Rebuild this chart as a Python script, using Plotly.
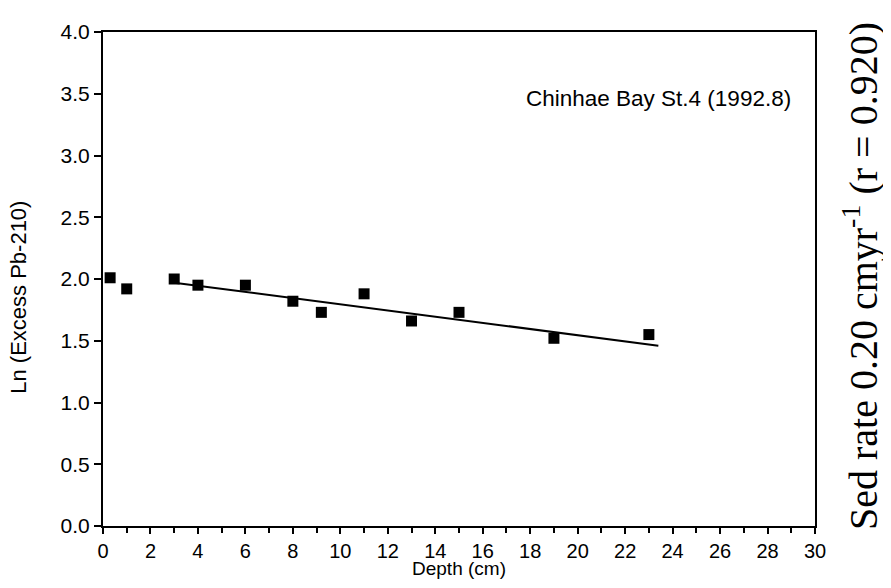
import plotly.graph_objects as go

# Data
depth_cm = [0.3, 1.0, 3.0, 4.0, 6.0, 8.0, 9.2, 11.0, 13.0, 15.0, 19.0, 23.0]
ln_excess_pb210 = [2.01, 1.92, 2.00, 1.95, 1.95, 1.82, 1.73, 1.88, 1.66, 1.73, 1.52, 1.55]

fit_x = [3.0, 23.4]
fit_y = [1.97, 1.46]

x_tickvals = list(range(0, 31, 2))
y_tickvals = [0.0, 0.5, 1.0, 1.5, 2.0, 2.5, 3.0, 3.5, 4.0]
y_ticktext = ["0.0", "0.5", "1.0", "1.5", "2.0", "2.5", "3.0", "3.5", "4.0"]

station_label = "Chinhae Bay St.4 (1992.8)"
rate_label = "Sed rate 0.20 cmyr<sup>-1</sup> (r = 0.920)"

fig = go.Figure()
fig.add_trace(go.Scatter(x=fit_x, y=fit_y, mode="lines",
                         line=dict(color="black", width=2), showlegend=False))
fig.add_trace(go.Scatter(x=depth_cm, y=ln_excess_pb210, mode="markers",
                         marker=dict(symbol="square", size=11, color="black"),
                         showlegend=False))

sans = "Liberation Sans, Arial, sans-serif"
serif = "Liberation Serif, Times New Roman, serif"
fig.update_layout(
    width=891, height=588,
    margin=dict(l=95, r=84, t=12, b=70),
    paper_bgcolor="white", plot_bgcolor="white",
    font=dict(family=sans, color="black"),
    xaxis=dict(range=[0, 30], tickvals=x_tickvals, ticks="outside", ticklen=6,
               tickwidth=2, tickcolor="black", showline=True, linecolor="black",
               linewidth=2, mirror=True, showgrid=False, zeroline=False,
               tickfont=dict(size=20, family=sans),
               minor=dict(dtick=1, ticks="outside", ticklen=5, tickwidth=2,
                          tickcolor="black", showgrid=False)),
    yaxis=dict(range=[0, 4], tickvals=y_tickvals, ticktext=y_ticktext,
               ticks="outside", ticklen=7, tickwidth=2, tickcolor="black",
               showline=True, linecolor="black", linewidth=2, mirror=True,
               showgrid=False, zeroline=False, tickfont=dict(size=21, family=sans)),
    annotations=[
        dict(text="Depth (cm)", xref="paper", yref="paper", x=0.5, y=-0.087,
             xanchor="center", yanchor="middle", showarrow=False,
             font=dict(size=19, family=sans)),
        dict(text="Ln (Excess Pb-210)", xref="paper", yref="paper", x=-0.118, y=0.464,
             xanchor="center", yanchor="middle", textangle=-90, showarrow=False,
             font=dict(size=22, family=sans)),
        dict(text=station_label, xref="paper", yref="paper", x=0.7795, y=0.866,
             xanchor="center", yanchor="middle", showarrow=False,
             font=dict(size=22.5, family=sans)),
        dict(text=rate_label, xref="paper", yref="paper", x=1.0632, y=0.506,
             xanchor="center", yanchor="middle", textangle=-90, showarrow=False,
             font=dict(size=40, family=serif)),
    ],
)

fig.write_html("out.html")
